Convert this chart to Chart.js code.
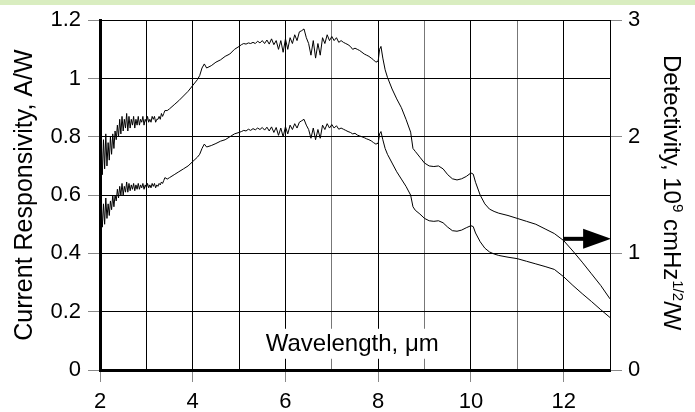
<!DOCTYPE html>
<html>
<head>
<meta charset="utf-8">
<script src="https://cdn.jsdelivr.net/npm/chart.js@4.4.1/dist/chart.umd.min.js"></script>
<style>
  body { margin: 0; background: #fff; }
  #grafica { display: block; }
</style>
</head>
<body>
<canvas id="grafica" width="695" height="412"></canvas>
<script>
// longitud de onda (um)
var wl = [
  2, 2.025, 2.05, 2.075, 2.1, 2.125, 2.15, 2.175, 2.2, 2.225,
  2.25, 2.275, 2.3, 2.325, 2.35, 2.375, 2.4, 2.425, 2.45, 2.475,
  2.5, 2.525, 2.55, 2.575, 2.6, 2.625, 2.65, 2.675, 2.7, 2.725,
  2.75, 2.775, 2.8, 2.825, 2.85, 2.875, 2.9, 2.925, 2.95, 2.975,
  3, 3.025, 3.05, 3.075, 3.1, 3.125, 3.15, 3.175, 3.2, 3.225,
  3.25, 3.275, 3.3, 3.325, 3.35, 3.375, 3.4,
  3.45, 3.5, 3.6, 3.7, 3.8, 3.9, 4, 4.1, 4.15, 4.2, 4.25, 4.3, 4.4, 4.5, 4.6, 4.7, 4.8, 4.9,
  5, 5.05, 5.1, 5.15, 5.2, 5.25, 5.3, 5.35, 5.4, 5.45,
  5.5, 5.55, 5.6, 5.65, 5.7, 5.75, 5.8, 5.85, 5.9, 5.95,
  6, 6.05, 6.1, 6.15, 6.2, 6.25, 6.3, 6.35, 6.4, 6.45,
  6.5, 6.55, 6.6, 6.65, 6.7, 6.75, 6.8, 6.85, 6.9, 6.95,
  7, 7.05, 7.1, 7.15, 7.2, 7.25, 7.3, 7.35, 7.4, 7.45,
  7.5, 7.55, 7.6, 7.65, 7.7, 7.75, 7.8,
  7.85, 7.9, 7.95, 8, 8.03, 8.06, 8.1, 8.15, 8.2, 8.3,
  8.4, 8.5, 8.6, 8.7, 8.75, 8.8, 8.9, 9, 9.1, 9.2,
  9.3, 9.4, 9.5, 9.6, 9.7, 9.8, 9.9, 10, 10.05, 10.1,
  10.2, 10.3, 10.4, 10.5, 10.6, 10.8, 11, 11.2, 11.4, 11.6,
  11.8, 12, 12.2, 12.4, 12.6, 12.8, 13
];

// responsividad de corriente (A/W), eje izquierdo
var resp = [
  0.50, 0.58, 0.49, 0.57, 0.50, 0.59, 0.52, 0.57, 0.53, 0.58,
  0.55, 0.60, 0.56, 0.60, 0.58, 0.62, 0.59, 0.63, 0.60, 0.64,
  0.60, 0.63, 0.61, 0.645, 0.61, 0.64, 0.615, 0.635, 0.62, 0.64,
  0.615, 0.635, 0.62, 0.64, 0.62, 0.635, 0.625, 0.64, 0.62, 0.635,
  0.625, 0.64, 0.625, 0.635, 0.625, 0.64, 0.63, 0.64, 0.625, 0.635,
  0.63, 0.64, 0.635, 0.645, 0.64, 0.65, 0.66,
  0.655, 0.66, 0.67, 0.68, 0.69, 0.70, 0.715, 0.73, 0.74, 0.76, 0.775, 0.765, 0.77, 0.777, 0.785, 0.79, 0.80, 0.81,
  0.815, 0.818, 0.822, 0.82, 0.826, 0.822, 0.828, 0.824, 0.83, 0.825,
  0.832, 0.823, 0.833, 0.82, 0.834, 0.815, 0.832, 0.805, 0.83, 0.80,
  0.835, 0.81, 0.84, 0.825, 0.845, 0.83, 0.85, 0.855, 0.86, 0.84,
  0.825, 0.795, 0.83, 0.79, 0.825, 0.795, 0.84, 0.825, 0.845, 0.83,
  0.842, 0.83, 0.838, 0.826, 0.83, 0.826, 0.822, 0.818, 0.815, 0.81,
  0.812, 0.806, 0.803, 0.80, 0.797, 0.793, 0.79,
  0.786, 0.78, 0.775, 0.778, 0.81, 0.818, 0.79, 0.76, 0.74, 0.71,
  0.68, 0.655, 0.63, 0.60, 0.56, 0.548, 0.535, 0.52, 0.512, 0.51,
  0.512, 0.505, 0.49, 0.478, 0.476, 0.48, 0.488, 0.495, 0.492, 0.47,
  0.44, 0.418, 0.405, 0.398, 0.393, 0.387, 0.382, 0.373, 0.364, 0.355,
  0.345, 0.32, 0.29, 0.262, 0.235, 0.207, 0.18
];

// detectividad (10^9 cmHz^1/2/W), eje derecho
var det = [
  1.75, 2.00, 1.675, 1.975, 1.725, 2.025, 1.75, 1.95, 1.80, 2.00,
  1.85, 2.025, 1.90, 2.05, 1.975, 2.10, 2.00, 2.15, 2.025, 2.175,
  2.05, 2.15, 2.075, 2.20, 2.05, 2.175, 2.075, 2.15, 2.10, 2.175,
  2.075, 2.15, 2.10, 2.175, 2.10, 2.15, 2.125, 2.175, 2.10, 2.15,
  2.125, 2.175, 2.125, 2.15, 2.125, 2.175, 2.15, 2.175, 2.125, 2.15,
  2.15, 2.175, 2.15, 2.20, 2.175, 2.20, 2.225,
  2.225, 2.24, 2.275, 2.31, 2.35, 2.39, 2.44, 2.49, 2.525, 2.59, 2.625, 2.59, 2.61, 2.64, 2.66, 2.69, 2.71, 2.75,
  2.775, 2.79, 2.80, 2.795, 2.805, 2.80, 2.81, 2.80, 2.82, 2.805,
  2.825, 2.80, 2.83, 2.795, 2.84, 2.79, 2.825, 2.75, 2.825, 2.725,
  2.84, 2.75, 2.85, 2.80, 2.875, 2.825, 2.90, 2.91, 2.925, 2.85,
  2.80, 2.70, 2.825, 2.675, 2.80, 2.70, 2.85, 2.80, 2.875, 2.825,
  2.86, 2.825, 2.85, 2.81, 2.825, 2.81, 2.80, 2.79, 2.775, 2.75,
  2.76, 2.75, 2.74, 2.725, 2.71, 2.70, 2.69,
  2.675, 2.66, 2.64, 2.65, 2.75, 2.775, 2.675, 2.575, 2.51, 2.41,
  2.325, 2.25, 2.15, 2.04, 1.90, 1.875, 1.825, 1.775, 1.75, 1.745,
  1.75, 1.725, 1.675, 1.64, 1.63, 1.64, 1.66, 1.69, 1.68, 1.61,
  1.50, 1.425, 1.38, 1.36, 1.345, 1.325, 1.30, 1.275, 1.25, 1.21,
  1.17, 1.11, 1.02, 0.925, 0.825, 0.725, 0.61
];

var tituloY = 'Current Responsivity, A/W';
var tituloX = 'Wavelength, μm';
// titulo derecho por partes (sup = superindice)
var tituloY1 = [
  { t: 'Detectivity, 10', sup: false },
  { t: '9', sup: true },
  { t: ' cmHz', sup: false },
  { t: '1/2', sup: true },
  { t: '/W', sup: false }
];

var familia = "'Liberation Sans', Arial, Helvetica, sans-serif";

function puntos(vals){
  return wl.map(function(x, i){ return { x: x, y: vals[i] }; });
}

var extras = {
  id: 'extras',
  beforeDraw: function(chart){
    var ctx = chart.ctx;
    ctx.save();
    ctx.fillStyle = '#fff';
    ctx.fillRect(0, 0, chart.width, chart.height);
    ctx.fillStyle = '#d9edc0';
    ctx.fillRect(0, 0, chart.width, 5);
    ctx.restore();
  },
  beforeDatasetsDraw: function(chart){
    // etiqueta del eje x dentro del area, con fondo blanco
    var ctx = chart.ctx, xs = chart.scales.x, ys = chart.scales.y;
    var cx = xs.getPixelForValue(7.44), cy = ys.getPixelForValue(0.09);
    ctx.save();
    ctx.font = '24px ' + familia;
    var w = ctx.measureText(tituloX).width;
    ctx.fillStyle = '#fff';
    ctx.fillRect(cx - w / 2 - 3, cy - 15, w + 6, 30);
    ctx.fillStyle = '#000';
    ctx.textAlign = 'center';
    ctx.textBaseline = 'middle';
    ctx.fillText(tituloX, cx, cy + 1);
    ctx.restore();
  },
  afterDraw: function(chart){
    var ctx = chart.ctx, xs = chart.scales.x, y1 = chart.scales.y1;
    // flecha hacia el eje derecho
    var ya = y1.getPixelForValue(1.125);
    var x0 = xs.getPixelForValue(12), x1 = xs.getPixelForValue(12.42), x2 = xs.getPixelForValue(13);
    ctx.save();
    ctx.strokeStyle = '#000';
    ctx.fillStyle = '#000';
    ctx.lineWidth = 4;
    ctx.beginPath();
    ctx.moveTo(x0, ya);
    ctx.lineTo(x1 + 2, ya);
    ctx.stroke();
    ctx.beginPath();
    ctx.moveTo(x1, ya - 10);
    ctx.lineTo(x2 + 1, ya);
    ctx.lineTo(x1, ya + 10);
    ctx.closePath();
    ctx.fill();
    ctx.restore();

    // titulo del eje derecho, girado
    ctx.save();
    ctx.translate(664, 55);
    ctx.rotate(Math.PI / 2);
    ctx.fillStyle = '#000';
    ctx.textBaseline = 'alphabetic';
    var pos = 0;
    tituloY1.forEach(function(p){
      ctx.font = (p.sup ? '15px ' : '24px ') + familia;
      ctx.fillText(p.t, pos, p.sup ? -9 : 0);
      pos += ctx.measureText(p.t).width;
    });
    ctx.restore();
  }
};

var grafica = new Chart(document.getElementById('grafica').getContext('2d'), {
  type: 'scatter',
  data: {
    datasets: [
      {
        label: 'Responsivity',
        data: puntos(resp),
        yAxisID: 'y',
        showLine: true,
        borderColor: '#000',
        borderWidth: 1,
        pointRadius: 0,
        tension: 0
      },
      {
        label: 'Detectivity',
        data: puntos(det),
        yAxisID: 'y1',
        showLine: true,
        borderColor: '#000',
        borderWidth: 1,
        pointRadius: 0,
        tension: 0
      }
    ]
  },
  options: {
    responsive: false,
    animation: false,
    events: [],
    layout: { padding: { top: 17, left: 0, right: 0, bottom: 0 } },
    plugins: {
      legend: { display: false },
      tooltip: { enabled: false }
    },
    scales: {
      x: {
        type: 'linear',
        min: 2,
        max: 13,
        ticks: {
          stepSize: 1,
          autoSkip: false,
          maxRotation: 0,
          color: '#000',
          padding: 7,
          font: { family: familia, size: 22 },
          callback: function(v){ return v % 2 ? '' : String(v); }
        },
        grid: {
          color: function(c){ return [7, 9, 11].indexOf(c.tick && c.tick.value) >= 0 ? '#777' : '#000'; },
          tickColor: function(c){ return c.tick && c.tick.value % 2 ? 'rgba(0,0,0,0)' : '#888'; },
          tickLength: 12,
          lineWidth: 1
        },
        border: { color: '#000', width: 3 },
        afterFit: function(s){ s.height = 42; }
      },
      y: {
        position: 'left',
        min: 0,
        max: 1.2,
        ticks: {
          stepSize: 0.2,
          color: '#000',
          padding: 7,
          font: { family: familia, size: 22 },
          callback: function(v){ return String(+v.toFixed(1)); }
        },
        grid: { color: '#000', tickColor: '#888', tickLength: 12, lineWidth: 1 },
        border: { color: '#000', width: 3 },
        title: {
          display: true,
          text: tituloY,
          color: '#000',
          font: { family: familia, size: 25 },
          padding: { top: 10, bottom: 0 }
        },
        afterFit: function(s){ s.width = 100; }
      },
      y1: {
        position: 'right',
        min: 0,
        max: 3,
        ticks: {
          stepSize: 1,
          color: '#000',
          padding: 6,
          font: { family: familia, size: 22 }
        },
        grid: { drawOnChartArea: false, tickColor: '#888', tickLength: 12 },
        border: { color: '#000', width: 1 },
        afterFit: function(s){ s.width = 85; }
      }
    }
  },
  plugins: [extras]
});
</script>
</body>
</html>
